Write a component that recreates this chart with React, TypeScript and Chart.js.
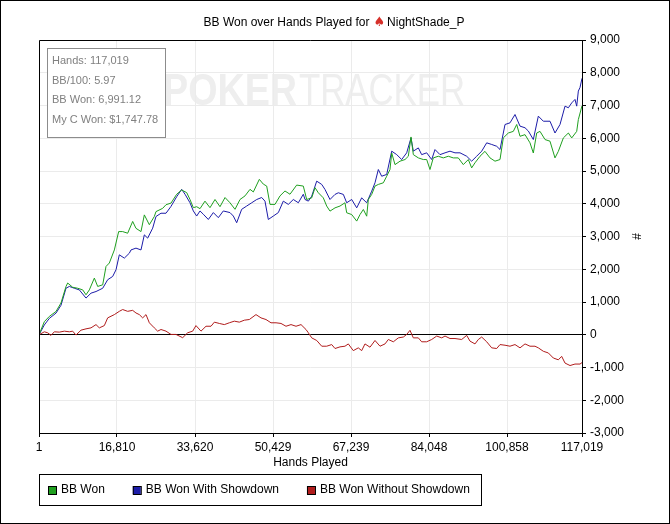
import React, { useEffect, useRef } from "react";
import { Chart, registerables } from "chart.js";

Chart.register(...registerables);

const FONT = "'Liberation Sans', Arial, sans-serif";

// x ticks of the hands axis (first and last tick are the range ends)
const xTicks = [1, 16810, 33620, 50429, 67239, 84048, 100858, 117019];
const yMin = -3000;
const yMax = 9000;

const infoLines = ["Hands: 117,019", "BB/100: 5.97", "BB Won: 6,991.12", "My C Won: $1,747.78"];

// BB Won (green)
const bbWonHands = [
  1, 1150, 2230, 3660, 4740, 5820, 6180, 7260, 8340, 9420,
  10130, 10850, 11930, 12650, 13730, 14440, 15160, 16240, 17170, 18030,
  19110, 20190, 20900, 21980, 22700, 23780, 24850, 25210, 26650, 27370,
  28450, 29670, 30750, 31830, 32540, 33260, 33980, 34700, 35770, 36850,
  37930, 39010, 40090, 41160, 42240, 43320, 44400, 45470, 46190, 47480,
  48340, 49070, 49780, 50860, 51940, 53010, 54090, 55530, 56960, 57690,
  58770, 59480, 60200, 61270, 62000, 62710, 63790, 64870, 65940, 66310,
  67390, 68470, 69180, 69900, 70620, 70970, 71700, 72410, 73130, 74210,
  74930, 75640, 76010, 76720, 77800, 78880, 79590, 80170, 80670, 81750,
  82820, 83550, 84260, 84970, 86050, 87130, 88210, 89280, 90360, 91440,
  92520, 93240, 93960, 95040, 96110, 97190, 98270, 99350, 100060, 101140,
  102220, 102950, 103660, 104740, 105810, 106530, 107260, 107970, 109050, 110120,
  111200, 111920, 113000, 114080, 114800, 115880, 116230, 117019,
];
const bbWon = [
  0, 400, 560, 710, 970, 1475, 1580, 1450, 1420, 1370,
  1220, 1370, 1730, 1475, 1525, 2085, 2190, 2590, 3150, 3150,
  3100, 3460, 3250, 3150, 3660, 3360, 3610, 3760, 3860, 3970,
  4020, 4290, 4420, 4340, 4130, 3880, 3910, 3850, 4080, 3880,
  4130, 3910, 4190, 4030, 3830, 4130, 4240, 4440, 4360, 4745,
  4600, 4540, 3980, 3980, 4240, 4390, 4290, 4570, 4540, 4130,
  4180, 4490, 4335, 4180, 3930, 3775, 3875, 3930, 4030, 3725,
  3670, 3470, 3670, 3825, 3620, 4130, 4285, 4540, 4590, 4640,
  4840, 5045, 5550, 5195, 5300, 5350, 5450, 6040, 5500, 5400,
  5350, 5350, 5045, 5400, 5450, 5400, 5450, 5400, 5400, 5195,
  5350, 5095, 5250, 5450, 5600, 5400, 5300, 5350, 6010, 6160,
  6210, 6420, 6060, 6110, 5860, 5550, 6160, 6210, 5960, 5910,
  5400, 5600, 6010, 6160, 6010, 6210, 6570, 6991,
];

// BB Won With Showdown (blue)
const sdHands = [
  1, 1150, 2230, 3660, 4740, 5820, 6540, 7610, 8690, 10130,
  11210, 12290, 13730, 14800, 15880, 16600, 17310, 18390, 19470, 19830,
  20900, 21980, 22700, 23420, 24500, 25210, 26290, 27370, 28450, 29670,
  30750, 31470, 32540, 33260, 33980, 34700, 35410, 36490, 37570, 38650,
  39720, 41160, 41880, 42600, 43680, 44760, 45840, 46920, 47990, 48700,
  49420, 50500, 51580, 52650, 53730, 54810, 55890, 56960, 57330, 58050,
  58770, 59850, 60930, 61640, 62710, 63790, 64510, 65590, 66310, 67390,
  68470, 69540, 70620, 71700, 72410, 73130, 73850, 74930, 76010, 77090,
  78160, 79240, 80170, 80670, 81750, 82470, 83550, 84630, 85340, 86420,
  87500, 88570, 89650, 90730, 92170, 93240, 94320, 95400, 96480, 97560,
  98640, 99350, 100430, 101500, 102580, 103660, 104740, 105460, 106530, 107610,
  108690, 110120, 111200, 112280, 113360, 114080, 114800, 115510, 115880, 116230,
  116590, 117019,
];
const bbWonSd = [
  0, 300, 500, 660, 900, 1420, 1475, 1420, 1370, 1120,
  1270, 1320, 1420, 1680, 1780, 1985, 2440, 2340, 2490, 2590,
  2645, 2590, 3050, 2950, 3255, 3610, 3710, 3710, 3920, 4215,
  4440, 4290, 4030, 3780, 3625, 3780, 3680, 3520, 3730, 3575,
  3780, 3730, 3625, 3420, 3830, 3930, 4030, 4130, 4190, 4080,
  3520, 3625, 3730, 4080, 3980, 4130, 4030, 4290, 4130, 4080,
  4230, 4690, 4590, 4435, 4130, 4285, 4335, 4285, 4030, 4130,
  3875, 4180, 4030, 4385, 4640, 5045, 4840, 4895, 5605, 5500,
  5350, 5555, 6010, 5605, 5705, 5500, 5555, 5350, 5655, 5500,
  5555, 5605, 5555, 5555, 5450, 5300, 5450, 5605, 5860, 5810,
  5755, 5655, 6420, 6470, 6725, 6370, 6320, 6220, 5960, 6675,
  6520, 6520, 6160, 6420, 6980, 6930, 7080, 7185, 6980, 7440,
  7550, 7830,
];

// BB Won Without Showdown (red)
const nsdHands = [
  1, 1150, 1870, 2590, 3300, 4380, 5460, 6540, 7260, 7970,
  9050, 10130, 11210, 12290, 13000, 14080, 14800, 16240, 17310, 18030,
  19110, 20190, 20900, 21620, 22340, 23060, 23780, 24850, 25570, 26290,
  27370, 28450, 29520, 30960, 32040, 33120, 33830, 34910, 35990, 37070,
  37790, 38860, 39940, 41020, 42100, 43170, 44250, 45330, 46760, 47840,
  48920, 50000, 51080, 52150, 53230, 54310, 55390, 56470, 57540, 58050,
  58770, 59850, 60930, 62000, 63080, 63790, 64870, 65940, 66660, 67730,
  68810, 69540, 70250, 71330, 72410, 73490, 74570, 75280, 76360, 77440,
  78520, 79240, 79950, 80670, 81750, 82470, 83550, 84630, 85710, 86790,
  87500, 88570, 89650, 91090, 92170, 92880, 93960, 94680, 95400, 96480,
  97560, 98640, 99350, 100430, 101500, 102580, 103660, 104740, 105810, 106890,
  107610, 108690, 109760, 110840, 111920, 112640, 113360, 114440, 115510, 116590,
  117019,
];
const bbWonNsd = [
  0, 90, 60, -20, 90, 80, 110, 90, 110, -10,
  140, 180, 210, 310, 210, 280, 515, 615, 715, 770,
  715, 745, 665, 615, 515, 615, 365, 210, 110, 160,
  110, 10, 10, -90, 60, 110, 280, 110, 260, 260,
  385, 345, 310, 365, 415, 385, 445, 465, 615, 515,
  465, 365, 365, 345, 260, 310, 260, 310, 160, 60,
  -95, -175, -350, -350, -300, -420, -370, -350, -280, -485,
  -400, -485, -280, -380, -175, -350, -280, -145, -215, -95,
  -70, 10, 135, -95, -95, -215, -215, -145, -40, -95,
  -40, -115, -115, -145, -20, -195, -280, -145, -70, -215,
  -400, -420, -300, -320, -350, -300, -400, -280, -350, -350,
  -400, -505, -555, -710, -765, -660, -865, -940, -895, -895,
  -850,
];

const fmt = (v: number) => Number(v).toLocaleString("en-US");
const pts = (xs: number[], ys: number[]) => xs.map((x, i) => ({ x, y: ys[i] }));

// title, watermark, stats box, axis titles, legend and frame
const overlay = {
  id: "overlay",
  beforeDraw(chart: any) {
    const ctx = chart.ctx;
    ctx.save();
    ctx.fillStyle = "#eeeeee";
    ctx.textBaseline = "alphabetic";
    ctx.font = `bold 44px ${FONT}`;
    const w1 = ctx.measureText("POKER").width;
    ctx.translate(163, 105);
    ctx.scale(134 / w1, 1);
    ctx.fillText("POKER", 0, 0);
    ctx.restore();
    ctx.save();
    ctx.fillStyle = "#eeeeee";
    ctx.font = `44px ${FONT}`;
    const w2 = ctx.measureText("TRACKER").width;
    ctx.translate(299, 105);
    ctx.scale(166 / w2, 1);
    ctx.fillText("TRACKER", 0, 0);
    ctx.restore();
  },
  afterDraw(chart: any) {
    const ctx = chart.ctx;
    const { left, right, top, bottom } = chart.chartArea;
    ctx.save();
    ctx.strokeStyle = "#000";
    ctx.lineWidth = 1;
    ctx.beginPath();
    ctx.moveTo(left + 0.5, bottom);
    ctx.lineTo(left + 0.5, top + 0.5);
    ctx.lineTo(right, top + 0.5);
    ctx.stroke();
    ctx.strokeRect(0.5, 0.5, chart.width - 1, chart.height - 1);

    // title
    ctx.textBaseline = "middle";
    ctx.font = `12px ${FONT}`;
    const t1 = "BB Won over Hands Played for";
    const t2 = "NightShade_P";
    const a = ctx.measureText(t1).width;
    const c = ctx.measureText(t2).width;
    ctx.font = `13px 'DejaVu Sans'`;
    const b = ctx.measureText("\u2660").width;
    let x = 334 - (a + 4 + b + 2 + c) / 2;
    ctx.fillStyle = "#000";
    ctx.font = `12px ${FONT}`;
    ctx.fillText(t1, x, 23);
    x += a + 4;
    ctx.fillStyle = "#d6302a";
    ctx.font = `13px 'DejaVu Sans'`;
    ctx.fillText("\u2660", x, 23);
    x += b + 2;
    ctx.fillStyle = "#000";
    ctx.font = `12px ${FONT}`;
    ctx.fillText(t2, x, 23);

    // stats box
    ctx.fillStyle = "#fff";
    ctx.fillRect(47.5, 48.5, 118, 89);
    ctx.strokeStyle = "#8c8c8c";
    ctx.strokeRect(47.5, 48.5, 118, 89);
    ctx.fillStyle = "#808080";
    ctx.font = `11px ${FONT}`;
    infoLines.forEach((s, i) => ctx.fillText(s, 52, 61 + i * 19.7));

    // axis titles
    ctx.fillStyle = "#000";
    ctx.font = `12px ${FONT}`;
    ctx.textAlign = "center";
    ctx.fillText("Hands Played", (left + right) / 2, 463);
    ctx.save();
    ctx.translate(638, (top + bottom) / 2);
    ctx.rotate(-Math.PI / 2);
    ctx.fillText("#", 0, 0);
    ctx.restore();

    // legend
    ctx.textAlign = "left";
    ctx.strokeStyle = "#000";
    ctx.strokeRect(39.5, 474.5, 442, 31);
    let lx = 48;
    chart.data.datasets.forEach((ds: any) => {
      ctx.fillStyle = ds.borderColor;
      ctx.fillRect(lx, 486, 8, 8);
      ctx.strokeRect(lx + 0.5, 486.5, 8, 8);
      ctx.fillStyle = "#000";
      ctx.fillText(ds.label, lx + 13, 490);
      lx += 13 + ctx.measureText(ds.label).width + 28;
    });
    ctx.restore();
  },
};

const BBWonChart = () => {
  const chartRef = useRef<HTMLCanvasElement>(null);

  useEffect(() => {
    document.body.style.margin = "0";
    if (!chartRef.current) return;

    const chart = new Chart(chartRef.current, {
      type: "line",
      data: {
        datasets: [
          { label: "BB Won", data: pts(bbWonHands, bbWon), borderColor: "#1f9f1f" },
          { label: "BB Won With Showdown", data: pts(sdHands, bbWonSd), borderColor: "#1c1ca8" },
          { label: "BB Won Without Showdown", data: pts(nsdHands, bbWonNsd), borderColor: "#b01c1c" },
        ],
      },
      options: {
        animation: false,
        responsive: false,
        layout: { padding: { left: 39, top: 40, right: 0, bottom: 0 } },
        elements: {
          point: { radius: 0 },
          line: { borderWidth: 1, tension: 0 },
        },
        plugins: {
          legend: { display: false },
          title: { display: false },
          tooltip: { enabled: false },
        },
        scales: {
          x: {
            type: "linear",
            min: 1,
            max: 117019,
            afterBuildTicks: (s: any) => {
              s.ticks = xTicks.map((v) => ({ value: v }));
            },
            afterFit: (s: any) => {
              s.height = 91;
            },
            ticks: {
              autoSkip: false,
              maxRotation: 0,
              padding: 3,
              color: "#000",
              font: { family: FONT, size: 12 },
              callback: (v: any) => fmt(v),
            },
            grid: { color: "#ebebeb", tickColor: "#000", tickLength: 4 },
            border: { color: "#000" },
          },
          y: {
            position: "right",
            min: yMin,
            max: yMax,
            afterFit: (s: any) => {
              s.width = 88;
            },
            ticks: {
              stepSize: 1000,
              padding: 4,
              color: "#000",
              font: { family: FONT, size: 12 },
              callback: (v: any) => fmt(v),
            },
            grid: {
              color: (c: any) => (c.tick && c.tick.value === 0 ? "#000" : "#ebebeb"),
              tickColor: "#000",
              tickLength: 4,
            },
            border: { color: "#000" },
          },
        },
      },
      plugins: [overlay],
    });

    return () => {
      chart.destroy();
    };
  }, []);

  return <canvas ref={chartRef} width="670" height="524" style={{ display: "block" }}></canvas>;
};

export default BBWonChart;
